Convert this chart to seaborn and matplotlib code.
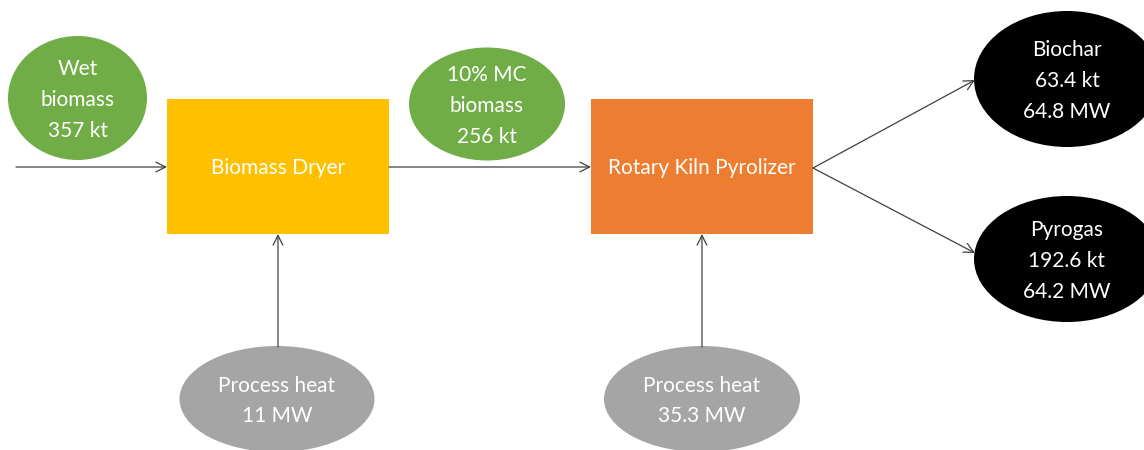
import matplotlib
matplotlib.use("Agg")
import matplotlib.pyplot as plt
from matplotlib.patches import Ellipse, Rectangle, FancyArrowPatch
import seaborn as sns

sns.set_theme(style="white")
plt.rcParams['font.family'] = ['Lato', 'DejaVu Sans']

# ---- data (labels) ----
process_labels = ["Biomass Dryer", "Rotary Kiln Pyrolizer"]
stream_labels = [
    ["Wet", "biomass", "357 kt"],
    ["10% MC", "biomass", "256 kt"],
    ["Biochar", "63.4 kt", "64.8 MW"],
    ["Pyrogas", "192.6 kt", "64.2 MW"],
    ["Process heat", "11 MW"],
    ["Process heat", "35.3 MW"],
]

# ---- layout (pixel coordinates, y downward) ----
W, H = 1144, 450
boxes = [(167, 99, 222, 135, "#FFC000"), (591, 99, 222, 135, "#ED7D31")]
ellipses = [
    (77.5, 98, 139, 124, "#70AD47"),
    (487, 104, 156, 113, "#70AD47"),
    (1067, 79, 186, 136, "#000000"),
    (1067, 259, 186, 126, "#000000"),
    (277, 399, 195, 106, "#A5A5A5"),
    (702, 399, 196, 106, "#A5A5A5"),
]
line_gap = 31
text_dy = 2
arrows = [
    ((16, 167), (167, 167)),
    ((389, 167), (591, 167)),
    ((278, 347), (278, 234)),
    ((702, 347), (702, 234)),
    ((813, 168), (975, 80)),
    ((813, 168), (975, 253)),
]

fig = plt.figure(figsize=(W / 100, H / 100), dpi=100)
ax = fig.add_axes([0, 0, 1, 1])
ax.set_xlim(0, W)
ax.set_ylim(H, 0)
ax.axis("off")

fs = 15
for (x, y, w, h, c), lab in zip(boxes, process_labels):
    ax.add_patch(Rectangle((x, y), w, h, facecolor=c, edgecolor="none"))
    ax.text(x + w / 2, y + h / 2 + text_dy, lab, color="white", fontsize=fs,
            ha="center", va="center")

for (cx, cy, w, h, c), lines in zip(ellipses, stream_labels):
    ax.add_patch(Ellipse((cx, cy), w, h, facecolor=c, edgecolor="none"))
    n = len(lines)
    for i, t in enumerate(lines):
        yy = cy + (i - (n - 1) / 2) * line_gap + text_dy
        ax.text(cx, yy, t, color="white", fontsize=fs, ha="center", va="center")

for (p0, p1) in arrows:
    ax.add_patch(FancyArrowPatch(p0, p1, arrowstyle="->,head_length=7,head_width=3.5",
                                 mutation_scale=1, color="#404040", lw=0.9,
                                 shrinkA=0, shrinkB=0))

fig.savefig("out.png", dpi=100, facecolor="white")
